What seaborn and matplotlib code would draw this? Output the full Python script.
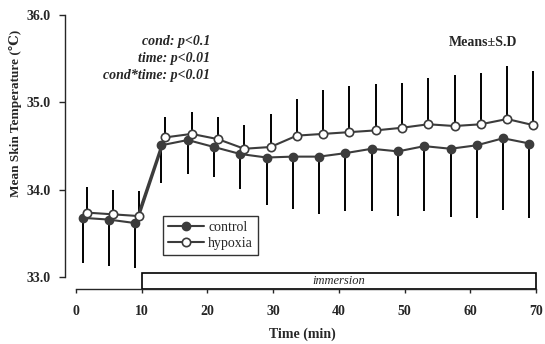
import numpy as np
import pandas as pd
import matplotlib
matplotlib.use("Agg")
import matplotlib.pyplot as plt
from matplotlib.patches import Rectangle
import seaborn as sns

# Sampling times (min); hypoxia is drawn slightly shifted to the right
time_control = [1, 5, 9, 13, 17, 21, 25, 29, 33, 37, 41, 45, 49, 53, 57, 61, 65, 69]
time_hypoxia = [1.6, 5.6, 9.6, 13.6, 17.6, 21.6, 25.6, 29.6, 33.6, 37.6, 41.6,
                45.6, 49.6, 53.6, 57.6, 61.6, 65.6, 69.6]

# Mean skin temperature (deg C)
mean_control = [33.68, 33.66, 33.62, 34.51, 34.57, 34.49, 34.41, 34.37, 34.38,
                34.38, 34.42, 34.47, 34.44, 34.50, 34.47, 34.51, 34.59, 34.53]
mean_hypoxia = [33.74, 33.72, 33.70, 34.60, 34.64, 34.58, 34.47, 34.49, 34.62,
                34.64, 34.66, 34.68, 34.71, 34.75, 34.73, 34.75, 34.81, 34.74]

# Standard deviations (control shown below, hypoxia above)
sd_control = [0.52, 0.53, 0.51, 0.43, 0.39, 0.34, 0.40, 0.54, 0.60, 0.66, 0.66,
              0.71, 0.74, 0.74, 0.78, 0.83, 0.82, 0.85]
sd_hypoxia = [0.29, 0.28, 0.29, 0.23, 0.25, 0.25, 0.27, 0.38, 0.42, 0.50, 0.53,
              0.53, 0.51, 0.53, 0.58, 0.59, 0.61, 0.62]

x_ticks = [0, 10, 20, 30, 40, 50, 60, 70]
y_ticks = [33.0, 34.0, 35.0, 36.0]
stats_lines = ["cond: p<0.1", "time: p<0.01", "cond*time: p<0.01"]

sns.set_style("ticks")
serif = ["Liberation Serif", "DejaVu Serif"]
plt.rcParams["font.family"] = serif

fig = plt.figure(figsize=(5.45, 3.44), dpi=100)
ax = fig.add_axes([65 / 545, 1 - 289 / 344, 475 / 545, 279 / 344])

line_col = "#3c3c3c"

# one-sided SD bars
ax.errorbar(time_control, mean_control, yerr=[sd_control, [0] * len(sd_control)],
            fmt="none", ecolor="black", elinewidth=1.4, capsize=0, zorder=1)
ax.errorbar(time_hypoxia, mean_hypoxia, yerr=[[0] * len(sd_hypoxia), sd_hypoxia],
            fmt="none", ecolor="black", elinewidth=1.4, capsize=0, zorder=1)

df_c = pd.DataFrame({"time": time_control, "temp": mean_control})
df_h = pd.DataFrame({"time": time_hypoxia, "temp": mean_hypoxia})
sns.lineplot(data=df_c, x="time", y="temp", ax=ax, color=line_col, lw=1.5,
             marker="o", markersize=6, markerfacecolor=line_col,
             markeredgecolor=line_col, markeredgewidth=1.0, label="control", zorder=3)
sns.lineplot(data=df_h, x="time", y="temp", ax=ax, color=line_col, lw=1.5,
             marker="o", markersize=6, markerfacecolor="white",
             markeredgecolor=line_col, markeredgewidth=1.2, label="hypoxia", zorder=3)

ylo = 32.866
ax.set_xlim(-1.674, 70.61)
ax.set_ylim(ylo, 36.057)

# immersion period bar
ax.add_patch(Rectangle((10, ylo), 60, 33.05 - ylo, facecolor="white",
                       edgecolor="black", lw=1.2, zorder=2, clip_on=False))
ax.text(40, (ylo + 33.05) / 2, "immersion", ha="center", va="center",
        fontsize=9, style="italic", zorder=4)

ax.spines["top"].set_visible(False)
ax.spines["right"].set_visible(False)
ax.spines["left"].set_bounds(33, 36)
ax.spines["bottom"].set_bounds(0, 70)
ax.spines["left"].set_linewidth(1.0)
ax.spines["bottom"].set_linewidth(1.0)

ax.set_xticks(x_ticks)
ax.set_yticks(y_ticks)
ax.set_xticklabels([str(v) for v in x_ticks], fontweight="bold", fontsize=10)
ax.set_yticklabels([f"{v:.1f}" for v in y_ticks], fontweight="bold", fontsize=10)
ax.tick_params(axis="x", direction="out", length=3, width=1.0, pad=8.5)
ax.tick_params(axis="y", direction="out", length=4, width=1.0, pad=6)

ax.set_xlabel("Time (min)", fontweight="bold", fontsize=10, labelpad=7)
ax.set_ylabel("Mean Skin Temperature (\u2103)", fontweight="bold", fontsize=9.5)
ax.yaxis.set_label_coords((22 - 65) / 475, (289 - 113) / 279)

for i, s in enumerate(stats_lines):
    ax.text((210 - 65) / 475, 1 - (32 + i * 16.5) / 279, s,
            transform=ax.transAxes, ha="right", va="center", fontsize=10,
            style="italic", fontweight="bold")
ax.text((483 - 65) / 475, 1 - 32 / 279, "Means\u00b1S.D", transform=ax.transAxes,
        ha="center", va="center", fontsize=10, fontweight="bold")

leg = ax.legend(loc="lower left", bbox_to_anchor=((163 - 65) / 475, (289 - 255) / 279),
                frameon=True, fancybox=False, fontsize=10, borderpad=0.35,
                handlelength=2.6, handletextpad=0.3, labelspacing=0.25,
                borderaxespad=0)
leg.get_frame().set_edgecolor("black")
leg.get_frame().set_linewidth(1.0)

fig.savefig("out.png", dpi=100)
